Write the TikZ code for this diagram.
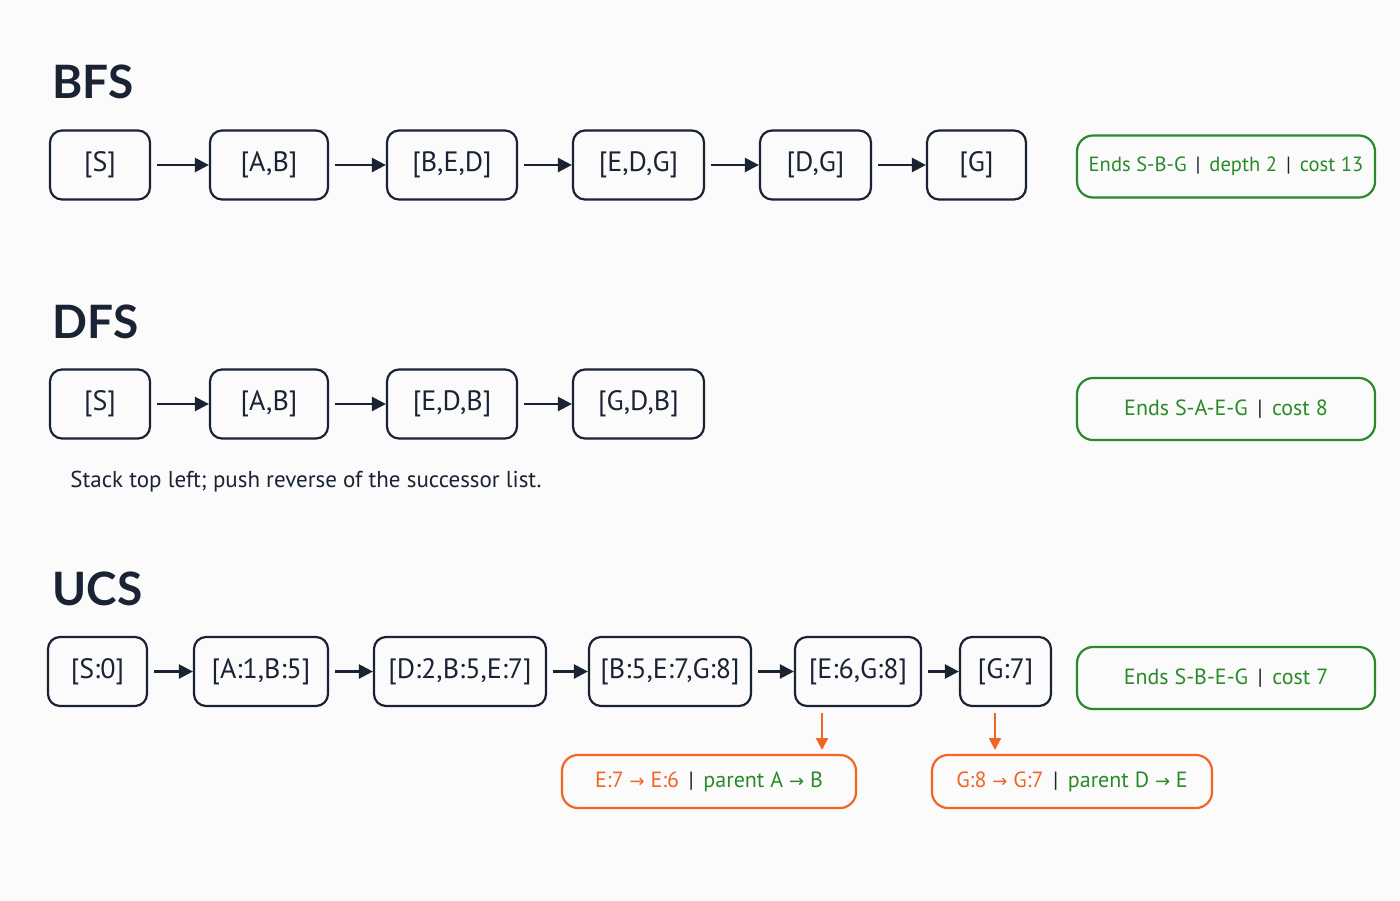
\documentclass[tikz,border=0pt]{standalone}
\usepackage{fontspec}
\setmainfont{PT Sans}
\newfontfamily\ttlf{Lato}
\newfontfamily\symf{DejaVu Sans}
\usetikzlibrary{arrows.meta}
\definecolor{navy}{HTML}{1A2333}
\definecolor{grn}{HTML}{2A8A2A}
\definecolor{org}{HTML}{F26522}
\begin{document}
\begin{tikzpicture}[x=0.5pt,y=-0.5pt,
 box/.style={draw=navy,line width=1.1pt,rounded corners=6pt,minimum height=34.5pt,inner sep=0pt,font=\fontsize{14}{16}\selectfont,text=navy},
 gbox/.style={draw=grn,line width=1.1pt,rounded corners=8pt,minimum width=149pt,minimum height=31pt,inner sep=0pt,font=\fontsize{11}{13}\selectfont,text=grn},
 obox/.style={draw=org,line width=1.1pt,rounded corners=8pt,minimum height=26.5pt,inner sep=0pt,font=\fontsize{11}{13}\selectfont,text=grn},
 ar/.style={-{Triangle[length=7pt,width=7pt]},line width=1.2pt,navy,shorten <=3pt},
 oar/.style={-{Triangle[length=6pt,width=6pt]},line width=1pt,org},
 ttl/.style={anchor=base west,font=\ttlf\fontsize{23}{26}\bfseries\selectfont,text=navy,inner sep=0pt}]
\fill[white!97!gray] (0,0) rectangle (1400,900);
\newcommand{\sep}{\textcolor{navy}{\,|\,}}
\newcommand{\rarr}{{\symf\fontsize{9}{10}\selectfont→}}
% BFS
\node[ttl] (t1) at (52,98) {BFS};
\node[box,minimum width=50pt] (b1) at (100,165) {[S]};
\node[box,minimum width=59pt] (b2) at (269,165) {[A,B]};
\node[box,minimum width=65pt] (b3) at (452,165) {[B,E,D]};
\node[box,minimum width=65.5pt] (b4) at (638.5,165) {[E,D,G]};
\node[box,minimum width=55.5pt] (b5) at (815.5,165) {[D,G]};
\node[box,minimum width=49.5pt] (b6) at (976.5,165) {[G]};
\foreach \a/\b in {b1/b2,b2/b3,b3/b4,b4/b5,b5/b6}\draw[ar] (\a) -- (\b);
\node[gbox,font=\fontsize{10.3}{12}\selectfont] (g1) at (1226,166.5) {Ends S-B-G \sep\ depth 2 \sep\ cost 13};
% DFS
\node[ttl] (t2) at (52,338) {DFS};
\node[box,minimum width=50pt] (d1) at (100,404) {[S]};
\node[box,minimum width=59pt] (d2) at (269,404) {[A,B]};
\node[box,minimum width=65pt] (d3) at (452,404) {[E,D,B]};
\node[box,minimum width=65.5pt] (d4) at (638.5,404) {[G,D,B]};
\foreach \a/\b in {d1/d2,d2/d3,d3/d4}\draw[ar] (\a) -- (\b);
\node[gbox] (g2) at (1226,409) {Ends S-A-E-G \sep\ cost 8};
\node[anchor=base west,inner sep=0pt,text=navy,font=\fontsize{11.5}{13}\selectfont] (note) at (70,487) {Stack top left; push reverse of the successor list.};
% UCS
\node[ttl] (t3) at (52,605) {UCS};
\node[box,minimum width=49.5pt] (u1) at (97.5,671.5) {[S:0]};
\node[box,minimum width=67pt] (u2) at (261,671.5) {[A:1,B:5]};
\node[box,minimum width=86pt] (u3) at (460,671.5) {[D:2,B:5,E:7]};
\node[box,minimum width=81pt] (u4) at (670,671.5) {[B:5,E:7,G:8]};
\node[box,minimum width=63pt] (u5) at (858,671.5) {[E:6,G:8]};
\node[box,minimum width=45.5pt] (u6) at (1005.5,671.5) {[G:7]};
\foreach \a/\b in {u1/u2,u2/u3,u3/u4,u4/u5,u5/u6}\draw[ar] (\a) -- (\b);
\node[gbox] (g3) at (1226,678) {Ends S-B-E-G \sep\ cost 7};
\node[obox,minimum width=147pt] (o1) at (709,781.5) {\textcolor{org}{E:7 \rarr\ E:6}\ \sep\ parent A \rarr\ B};
\node[obox,minimum width=140pt] (o2) at (1072,781.5) {\textcolor{org}{G:8 \rarr\ G:7}\ \sep\ parent D \rarr\ E};
\coordinate (c1) at (822,750);
\coordinate (c2) at (995,750);
\draw[oar] (u5.south -| c1) ++(0,6) -- (c1);
\draw[oar] (u6.south -| c2) ++(0,6) -- (c2);
\end{tikzpicture}
\end{document}
